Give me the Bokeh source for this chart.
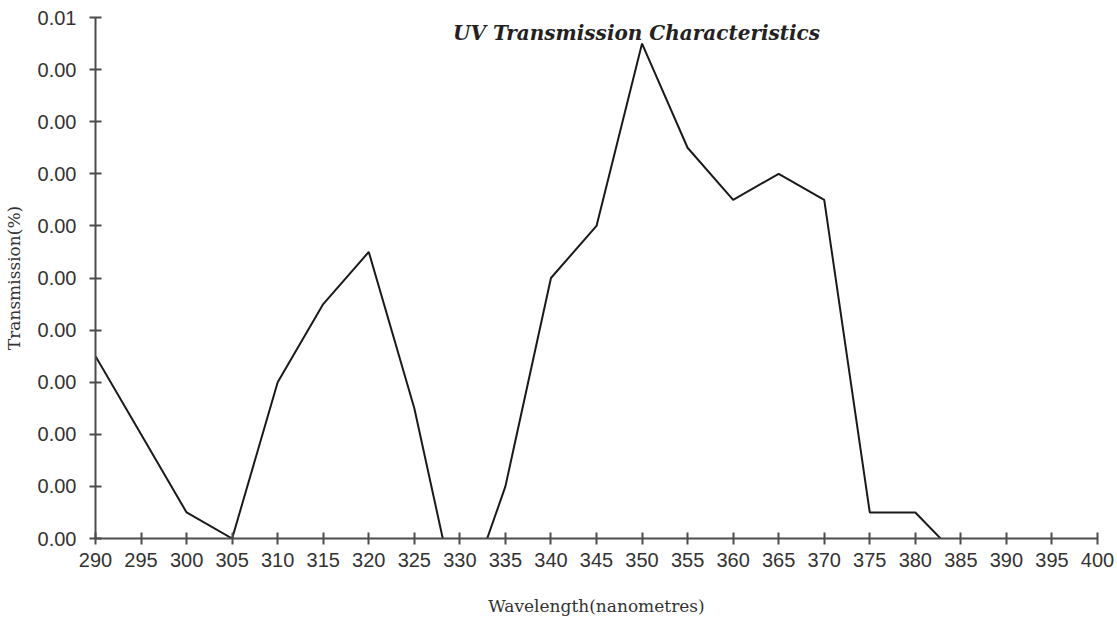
from bokeh.plotting import figure
from bokeh.models import Range1d, FixedTicker, CustomJSTickFormatter, Label
from bokeh.embed import file_html
from bokeh.resources import INLINE

# ---- data ----
wavelength = [290, 295, 300, 305, 310, 315, 320, 325, 330, 335, 340, 345,
              350, 355, 360, 365, 370, 375, 380, 385]
transmission = [0.0035, 0.0020, 0.0005, 0.0, 0.0030, 0.0045, 0.0055, 0.0025,
                -0.0015, 0.0010, 0.0050, 0.0060, 0.0095, 0.0075, 0.0065,
                0.0070, 0.0065, 0.0005, 0.0005, -0.0004]
x_ticks = list(range(290, 401, 5))
y_ticks = [0.0, 0.001, 0.002, 0.003, 0.004, 0.005, 0.006, 0.007, 0.008, 0.009, 0.01]

title_text = "UV Transmission Characteristics"
x_label = "Wavelength(nanometres)"
y_label = "Transmission(%)"

p = figure(width=1117, height=618, output_backend="svg", toolbar_location=None,
           x_range=Range1d(290, 400), y_range=Range1d(0, 0.01),
           min_border_left=95, min_border_right=20, min_border_top=17,
           min_border_bottom=79)

p.line(wavelength, transmission, line_color="#1a1a1a", line_width=2)

p.outline_line_color = None
p.xgrid.grid_line_color = None
p.ygrid.grid_line_color = None
p.background_fill_color = "white"
p.border_fill_color = "white"

for ax in (p.xaxis[0], p.yaxis[0]):
    ax.axis_line_color = "#4d4d4d"
    ax.axis_line_width = 2
    ax.major_tick_line_color = "#4d4d4d"
    ax.major_tick_line_width = 2
    ax.major_tick_in = 6
    ax.major_tick_out = 6
    ax.minor_tick_line_color = None
    ax.major_label_text_font = "Liberation Sans"
    ax.major_label_text_font_size = "20px"
    ax.major_label_text_color = "#333333"
    ax.axis_label_text_font = "DejaVu Serif"
    ax.axis_label_text_font_style = "normal"
    ax.axis_label_text_font_size = "17px"
    ax.axis_label_text_color = "#333333"

p.xaxis.ticker = FixedTicker(ticks=x_ticks)
p.yaxis.ticker = FixedTicker(ticks=y_ticks)
p.yaxis.formatter = CustomJSTickFormatter(
    code="return (Math.floor(tick * 100 + 1e-9) / 100).toFixed(2);")

p.xaxis.axis_label = x_label
p.yaxis.axis_label = y_label
p.xaxis.major_label_standoff = 8
p.yaxis.major_label_standoff = 13
p.xaxis.axis_label_standoff = 26
p.yaxis.axis_label_standoff = 11

title = Label(x=541, y=506, x_units="screen", y_units="screen", text=title_text,
              text_font="DejaVu Serif", text_font_style="bold italic",
              text_font_size="20px", text_color="#222222",
              text_align="center", text_baseline="middle")
p.add_layout(title)

open("out.html", "w").write(file_html(p, INLINE))
